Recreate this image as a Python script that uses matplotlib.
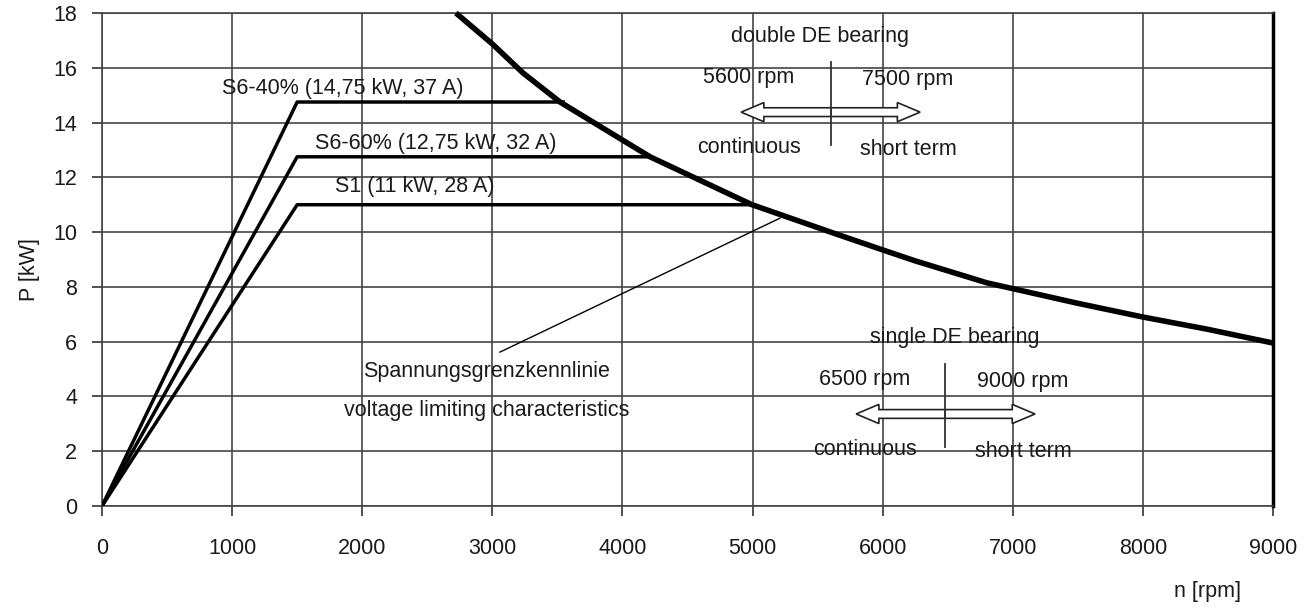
import matplotlib
matplotlib.use('Agg')
import matplotlib.pyplot as plt
import matplotlib.patches as mpatches

plt.rcParams['font.family'] = ['Liberation Sans', 'DejaVu Sans']
FS = 15.5

# Spannungsgrenzkennlinie (voltage limiting characteristics)
n_grenz = [2720, 3000, 3236, 3520, 4212, 4996, 5600, 6000, 6250, 6800, 7500, 8000, 8500, 9000]
p_grenz = [18.0, 16.87, 15.81, 14.75, 12.75, 11.0, 10.0, 9.35, 8.95, 8.15, 7.4, 6.9, 6.45, 5.95]

# Betriebsarten: Rampe bis 1500 rpm, dann konstante Leistung bis zur Grenzkennlinie
modes = ['S6-40% (14,75 kW, 37 A)', 'S6-60% (12,75 kW, 32 A)', 'S1 (11 kW, 28 A)']
p_mode = [14.75, 12.75, 11.0]
n_knee = [1500, 1500, 1500]
n_end = [3545, 4222, 4996]

# Lagerung: Dauer- und Kurzzeitdrehzahl
bearings = ['double DE bearing', 'single DE bearing']
n_cont = [5600, 6500]
n_short = [7500, 9000]

fig = plt.figure(figsize=(13.14, 6.08), dpi=100)
ax = fig.add_axes([102 / 1314, 1 - 506 / 608, (1273 - 102) / 1314, (506 - 13) / 608])

ax.set_xlim(0, 9000)
ax.set_ylim(0, 18)
ax.set_xticks(range(0, 9001, 1000))
ax.set_yticks(range(0, 19, 2))
ax.grid(True, color='#444444', linewidth=1.2)
ax.set_axisbelow(True)
ax.tick_params(direction='out', length=7, width=1.2, color='#333333',
               labelsize=FS, labelcolor='#1a1a1a')
ax.tick_params(axis='x', pad=16)
ax.tick_params(axis='y', pad=11)
for side in ['top', 'left', 'bottom']:
    ax.spines[side].set_color('#444444')
    ax.spines[side].set_linewidth(1.2)
ax.spines['right'].set_color('black')
ax.spines['right'].set_linewidth(2.5)

# Grenzkennlinie
ax.plot(n_grenz, p_grenz, color='black', linewidth=4.0, solid_capstyle='butt', clip_on=False, zorder=4)

# Betriebsarten
label_pos = [(1852, 15.26), (2567, 13.25), (2406, 11.65)]
for name, p, nk, ne, (tx, ty) in zip(modes, p_mode, n_knee, n_end, label_pos):
    ax.plot([0, nk, ne], [0, p, p], color='black', linewidth=2.5, zorder=3)
    ax.text(tx, ty, name, ha='center', va='center', fontsize=FS, color='#1a1a1a')

# Hinweislinie zur Grenzkennlinie
ax.plot([5211, 3059], [10.51, 5.62], color='black', linewidth=1.0, zorder=3)
ax.text(2959, 4.9, 'Spannungsgrenzkennlinie', ha='center', va='center', fontsize=FS, color='#1a1a1a')
ax.text(2959, 3.5, 'voltage limiting characteristics', ha='center', va='center', fontsize=FS, color='#1a1a1a')


def bearing_block(title, nc, ns, ymid, x_left, x_right, x_split, title_x, xc, xs):
    ax.text(title_x, ymid + 2.78, title, ha='center', va='center', fontsize=FS, color='#1a1a1a')
    ax.text(xc, ymid + 1.25, f'{nc} rpm', ha='center', va='center', fontsize=FS, color='#1a1a1a')
    ax.text(xs, ymid + 1.2, f'{ns} rpm', ha='center', va='center', fontsize=FS, color='#1a1a1a')
    for tip in (x_left, x_right):
        arrow = mpatches.FancyArrow(x_split, ymid, tip - x_split, 0, width=0.32, head_width=0.7,
                                    head_length=175, length_includes_head=True,
                                    facecolor='white', edgecolor='#222222', linewidth=1.2, zorder=5)
        ax.add_patch(arrow)
    ax.plot([x_split, x_split], [ymid + 1.83, ymid - 1.2], color='#333333', linewidth=1.3, zorder=6)
    ax.text(xc, ymid - 1.28, 'continuous', ha='center', va='center', fontsize=FS, color='#1a1a1a')
    ax.text(xs, ymid - 1.38, 'short term', ha='center', va='center', fontsize=FS, color='#1a1a1a')


bearing_block(bearings[0], n_cont[0], n_short[0], 14.38, 4912, 6288, 5603, 5519, 4973, 6195)
bearing_block(bearings[1], n_cont[1], n_short[1], 3.36, 5796, 7171, 6480, 6557, 5865, 7079)

fig.text(30 / 1314, 1 - 270 / 608, 'P [kW]', rotation=90, ha='center', va='center', fontsize=FS, color='#1a1a1a')
fig.text(1208 / 1314, 1 - 592 / 608, 'n [rpm]', ha='center', va='center', fontsize=FS, color='#1a1a1a')

fig.savefig('out.png', dpi=100)
